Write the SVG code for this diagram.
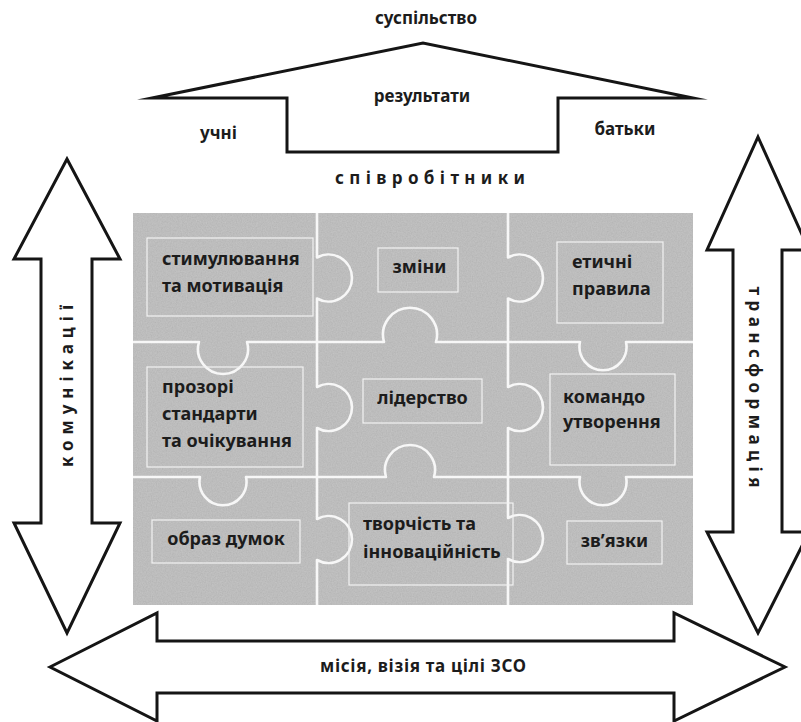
<svg xmlns="http://www.w3.org/2000/svg" width="801" height="722" viewBox="0 0 801 722">
<defs>
<style>
.lbl{font-family:"Noto Sans","Open Sans","DejaVu Sans",sans-serif;font-weight:bold;fill:#1c1c1c}
.p{font-size:18px}
.t{font-size:17px}
.arrow{fill:#ffffff;stroke:#151515;stroke-width:3;stroke-linejoin:miter;stroke-miterlimit:14}
.cut{fill:none;stroke:#f7f7f7;stroke-width:2.6;stroke-linejoin:round}
.box{fill:none;stroke:#f2f2f2;stroke-width:1.2}
</style>
<filter id="grain" x="0" y="0" width="100%" height="100%">
<feTurbulence type="fractalNoise" baseFrequency="0.8" numOctaves="2" seed="5" result="noise"/>
<feColorMatrix in="noise" type="saturate" values="0" result="mono"/>
<feComponentTransfer in="mono" result="mono2"><feFuncA type="linear" slope="0" intercept="0.16"/></feComponentTransfer>
<feComposite in="mono2" in2="SourceGraphic" operator="in" result="clip"/>
<feMerge><feMergeNode in="SourceGraphic"/><feMergeNode in="clip"/></feMerge>
</filter>
</defs>
<rect width="801" height="722" fill="#ffffff"/>

<g id="top-arrow">
<path class="arrow" d="M152,98 L423,43 L693,98 L558,98 L558,152 L287,152 L287,98 Z"/>
<text class="lbl t" x="426" y="24" text-anchor="middle">суспільство</text>
<text class="lbl t" x="422" y="102" text-anchor="middle">результати</text>
<text class="lbl t" x="218.5" y="139" text-anchor="middle">учні</text>
<text class="lbl t" x="625" y="135" text-anchor="middle">батьки</text>
<text class="lbl t" x="430" y="184" text-anchor="middle" textLength="190" lengthAdjust="spacing">співробітники</text>
</g>

<g id="left-arrow">
<path class="arrow" d="M67,159 L120,259 L92,259 L92,523 L120,523 L67,633 L14,523 L41,523 L41,259 L14,259 Z"/>
<text class="lbl t" transform="translate(73,386) rotate(-90)" x="0" y="0" text-anchor="middle" textLength="162" lengthAdjust="spacing">комунікації</text>
</g>

<g id="right-arrow">
<path class="arrow" d="M758,137 L809,250 L782,250 L782,532 L809,532 L758,633 L707,532 L733,532 L733,250 L707,250 Z"/>
<text class="lbl t" transform="translate(749,387) rotate(90)" x="0" y="0" text-anchor="middle" textLength="201" lengthAdjust="spacing">трансформація</text>
</g>

<g id="bottom-arrow">
<path class="arrow" d="M50,667 L157,613 L157,641 L674,641 L674,613 L785,667 L674,721 L674,693 L157,693 L157,721 Z"/>
<text class="lbl t" x="423" y="672" text-anchor="middle" textLength="206" lengthAdjust="spacing">місія, візія та цілі ЗСО</text>
</g>

<g id="puzzle">
<rect x="133" y="213" width="560" height="392" fill="#bdbdbd" filter="url(#grain)"/>
<g id="cuts">
<path class="cut" d="M317,213 V257.5 A23.5,23.5 0 1 1 317,298.5 V387 A23.5,23.5 0 1 1 317,428 V519 A23.5,23.5 0 1 1 317,560 V605"/>
<path class="cut" d="M508,213 V257.5 A23.5,23.5 0 1 1 508,298.5 V387 A23.5,23.5 0 1 1 508,428 V518 A23.5,23.5 0 1 1 508,559 V605"/>
<path class="cut" d="M133,342 H199 A25,25 0 1 0 247,342 H384 A27,27 0 1 1 436,342 H580 A23.5,23.5 0 1 0 626,342 H693"/>
<path class="cut" d="M133,477 H200 A23.5,23.5 0 1 0 246,477 H386 A25,25 0 1 1 434,477 H580 A23.5,23.5 0 1 0 626,477 H693"/>
</g>
</g>

<g id="node-stimuliuvannia">
<rect class="box" x="147" y="238" width="166" height="78"/>
<text class="lbl p" x="162" y="265">стимулювання</text>
<text class="lbl p" x="162" y="292">та мотивація</text>
</g>
<g id="node-zminy">
<rect class="box" x="378" y="248" width="80" height="44"/>
<text class="lbl p" x="419.5" y="273" text-anchor="middle">зміни</text>
</g>
<g id="node-etychni">
<rect class="box" x="557" y="242" width="106" height="81"/>
<text class="lbl p" x="572" y="268">етичні</text>
<text class="lbl p" x="572" y="295">правила</text>
</g>
<g id="node-prozori">
<rect class="box" x="147" y="367" width="156" height="100"/>
<text class="lbl p" x="162" y="393">прозорі</text>
<text class="lbl p" x="162" y="420">стандарти</text>
<text class="lbl p" x="162" y="447">та очікування</text>
</g>
<g id="node-liderstvo">
<rect class="box" x="363" y="379" width="119" height="44"/>
<text class="lbl p" x="422.5" y="404" text-anchor="middle">лідерство</text>
</g>
<g id="node-komando">
<rect class="box" x="550" y="374" width="125" height="91"/>
<text class="lbl p" x="563" y="403">командо</text>
<text class="lbl p" x="563" y="428">утворення</text>
</g>
<g id="node-obraz">
<rect class="box" x="152" y="520" width="148" height="43"/>
<text class="lbl p" x="226" y="545" text-anchor="middle">образ думок</text>
</g>
<g id="node-tvorchist">
<rect class="box" x="349" y="503" width="164" height="82"/>
<text class="lbl p" x="363" y="530">творчість та</text>
<text class="lbl p" x="363" y="558">інноваційність</text>
</g>
<g id="node-zviazky">
<rect class="box" x="567" y="521" width="95" height="43"/>
<text class="lbl p" x="614.5" y="547" text-anchor="middle">зв’язки</text>
</g>
</svg>
